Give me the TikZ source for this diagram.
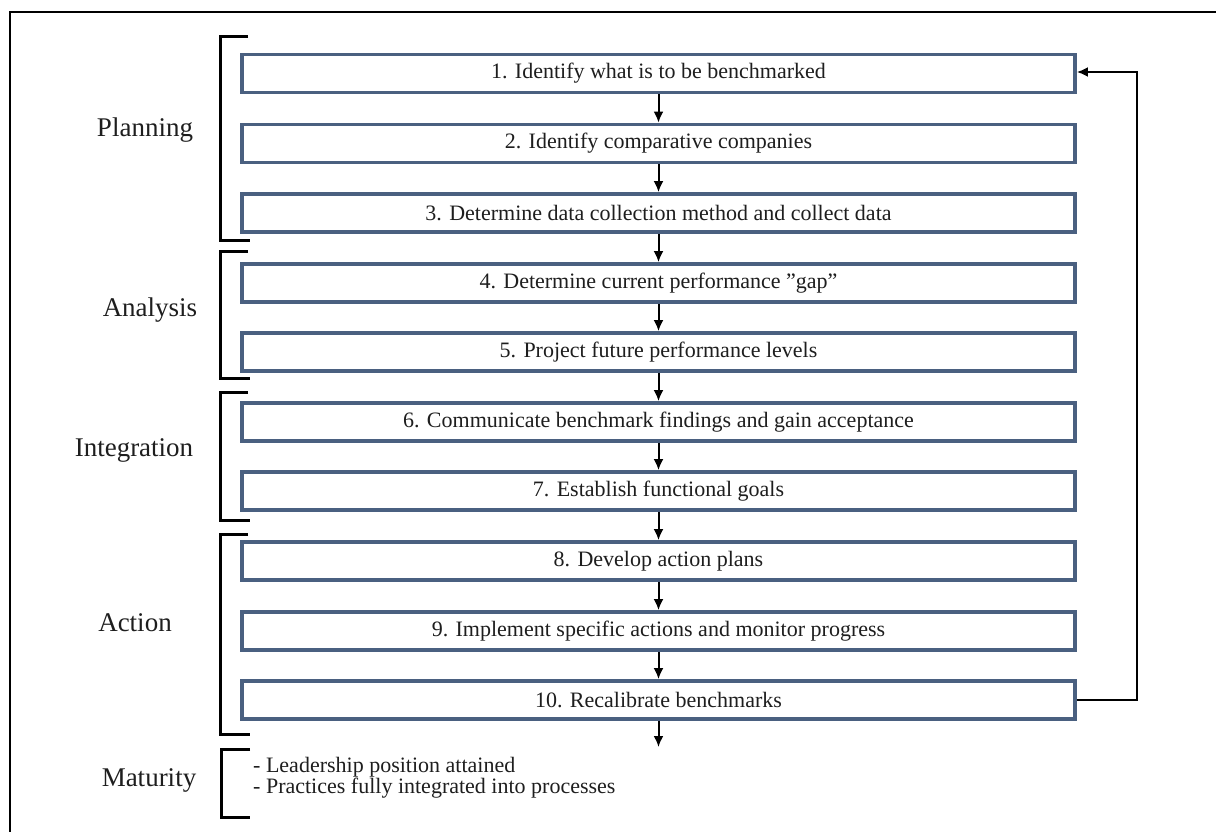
\documentclass[tikz,border=0pt]{standalone}
\usepackage{fontspec}
% plain keyboard quotes are kept straight: no TeX input mapping
\setmainfont{Liberation Serif}[Ligatures={ResetAll,Common}]
\usetikzlibrary{arrows.meta}
\definecolor{boxedge}{RGB}{74,96,128}
\definecolor{ink}{RGB}{30,30,30}
\tikzset{
  stepbox/.style={draw=boxedge, line width=3.8pt, fill=white, minimum width=833pt,
    minimum height=38pt, inner sep=0pt, text=ink, font=\fontsize{22}{24}\selectfont},
  flow/.style={line width=2pt, -{Latex[length=11pt,width=10pt]}},
  bracket/.style={line width=3pt, line cap=butt},
  phase/.style={font=\fontsize{27}{30}\selectfont, inner sep=0pt, text=ink},
  outcome/.style={font=\fontsize{22}{20.5}\selectfont, inner sep=0pt, align=left,
    anchor=base west, text=ink}
}
\begin{document}
\begin{tikzpicture}[x=1pt,y=-1pt]
\useasboundingbox (0,0) rectangle (1216,832);
% outer frame (only its top and left edges fall inside the page)
\draw[line width=1.4pt] (1230,12) -- (10,12) -- (10,850);

% process steps
\node[stepbox] (s1)  at (658.5,73.5) {1. Identify what is to be benchmarked};
\node[stepbox] (s2)  at (658.5,143.5) {2. Identify comparative companies};
\node[stepbox] (s3)  at (658.5,213) {3. Determine data collection method and collect data};
\node[stepbox] (s4)  at (658.5,283) {4. Determine current performance "gap"};
\node[stepbox] (s5)  at (658.5,352) {5. Project future performance levels};
\node[stepbox] (s6)  at (658.5,422) {6. Communicate benchmark findings and gain acceptance};
\node[stepbox] (s7)  at (658.5,491) {7. Establish functional goals};
\node[stepbox] (s8)  at (658.5,561) {8. Develop action plans};
\node[stepbox] (s9)  at (658.5,631) {9. Implement specific actions and monitor progress};
\node[stepbox] (s10) at (658.5,700) {10. Recalibrate benchmarks};
\coordinate (end) at (658.5,747);

\foreach \a/\b in {s1/s2,s2/s3,s3/s4,s4/s5,s5/s6,s6/s7,s7/s8,s8/s9,s9/s10}
  \draw[flow] (\a.south) -- (\b.north);
\draw[flow] (s10.south) -- (end);

% feedback loop
\coordinate (loopb) at (1137,700);
\coordinate (loopt) at (1137,72);
\draw[flow] (s10.east) -- (loopb) -- (loopt) -- (loopt -| s1.east);

% phase brackets
\draw[bracket] (248,37) -- (220,37) -- (220,240) -- (250,240);
\draw[bracket] (248,251) -- (220,251) -- (220,378) -- (250,378);
\draw[bracket] (248,392) -- (220,392) -- (220,520) -- (250,520);
\draw[bracket] (248,534) -- (220,534) -- (220,734) -- (250,734);
\draw[bracket] (250,749) -- (221,749) -- (221,817) -- (250,817);

% phase names
\node[phase] (planning) at (145,130) {Planning};
\node[phase] (analysis) at (150,310) {Analysis};
\node[phase] (integration) at (134,450) {Integration};
\node[phase] (action) at (135,623) {Action};
\node[phase] (maturity) at (149,780) {Maturity};

% outcome of the final phase (base anchor sits on the last line)
\node[outcome] (out) at (253,793) {- Leadership position attained\\- Practices fully integrated into processes};
\end{tikzpicture}
\end{document}
